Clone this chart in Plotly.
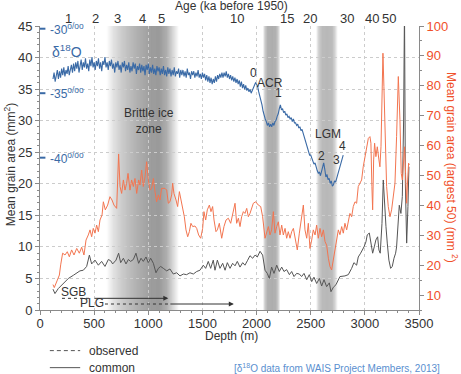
import plotly.graph_objects as go

# ---------------- data ----------------
age_labels = ["1", "2", "3", "4", "5", "10", "15", "20", "30", "40", "50"]
age_depths = [261, 508, 717, 948, 1123, 1818, 2278, 2493, 2832, 3063, 3225]

blue_depth = list(range(120, 2801, 10))
blue_d18o = [
    -33.9, -33.4, -34.1, -33.5, -33.2, -33.9, -33.3, -33.8, -33.1, -33.6,
    -33.0, -33.7, -33.2, -33.5, -32.9, -33.6, -33.1, -32.8, -33.4, -32.7,
    -33.3, -32.6, -33.1, -32.5, -33.4, -32.8, -32.4, -33.2, -32.6, -33.0,
    -32.3, -33.1, -32.7, -33.3, -32.4, -32.9, -32.2, -33.0, -32.6, -33.2,
    -32.5, -32.9, -32.3, -33.1, -32.6, -33.3, -32.5, -32.8, -32.2, -33.0,
    -32.6, -33.2, -32.5, -32.9, -32.4, -33.1, -32.7, -33.4, -32.6, -33.0,
    -32.5, -33.2, -32.8, -33.4, -32.6, -33.0, -32.5, -33.3, -32.8, -33.2,
    -32.6, -33.4, -32.9, -33.3, -32.6, -33.1, -32.7, -33.5, -32.9, -33.2,
    -32.7, -33.4, -32.8, -33.3, -32.9, -33.6, -32.8, -33.2, -32.7, -33.5,
    -33.0, -33.4, -32.8, -33.5, -33.1, -33.6, -32.9, -33.3, -33.0, -33.6,
    -33.1, -33.5, -32.9, -33.6, -33.2, -33.7, -33.0, -33.5, -33.1, -33.7,
    -33.2, -33.6, -33.0, -33.7, -33.3, -33.5, -33.1, -33.8, -33.2, -33.6,
    -33.2, -33.7, -33.3, -33.8, -33.1, -33.6, -33.4, -33.9, -33.3, -33.6,
    -33.3, -33.8, -33.4, -33.7, -33.2, -33.8, -33.5, -33.9, -33.4, -33.8,
    -33.5, -34.0, -33.6, -34.1, -33.7, -34.2, -33.8, -34.3, -33.9, -34.2,
    -33.7, -34.1, -33.6, -33.9, -33.5, -33.8, -33.4, -33.8, -33.4, -33.7,
    -33.3, -33.8, -33.5, -33.9, -33.6, -34.0, -33.7, -34.1, -33.8, -34.2,
    -33.9, -34.3, -34.0, -34.5, -34.1, -34.6, -34.3, -34.7, -34.4, -34.8,
    -34.6, -34.9, -34.7, -35.0, -34.8, -34.6, -34.5, -34.2, -34.3, -34.5,
    -34.9, -35.2, -35.6, -35.9, -36.4, -36.8, -37.0, -37.2, -37.5, -37.3,
    -37.6, -37.4, -37.6, -37.3, -37.5, -37.2, -37.1, -36.8, -36.6, -36.2,
    -35.9, -36.3, -36.2, -36.5, -36.4, -36.7, -36.6, -36.9, -36.8, -37.0,
    -36.9, -37.2, -37.0, -37.3, -37.3, -37.5, -37.4, -37.7, -37.6, -37.9,
    -37.8, -38.1, -38.4, -38.7, -39.1, -39.4, -39.6, -39.8, -39.8, -40.1,
    -40.2, -40.5, -40.4, -40.8, -41.0, -41.2, -41.1, -41.4, -41.0, -40.7,
    -40.4, -40.9, -41.5, -41.3, -41.7, -41.6, -42.0, -41.8, -42.2, -42.1,
    -41.8, -41.9, -41.6, -41.3, -41.0, -40.8, -40.4, -40.1, -39.8,
]

orange_depth = [
    120, 132, 160, 179, 191, 209, 231, 252, 271, 292, 314, 339, 363, 385, 406, 425, 446, 462,
    477, 492, 508, 523, 539, 554, 573, 585, 603, 625, 646, 665, 683, 708, 726, 739, 754, 770,
    785, 800, 813, 831, 846, 862, 877, 893, 911, 923, 939, 954, 970, 985, 1000, 1016, 1031,
    1047, 1062, 1077, 1093, 1108, 1123, 1139, 1154, 1170, 1185, 1200, 1216, 1225, 1237, 1256,
    1271, 1287, 1299, 1317, 1333, 1348, 1364, 1379, 1394, 1410, 1431, 1447, 1465, 1484, 1502,
    1514, 1530, 1545, 1564, 1579, 1594, 1607, 1625, 1638, 1656, 1678, 1699, 1718, 1739, 1761,
    1779, 1801, 1816, 1832, 1847, 1862, 1878, 1893, 1909, 1924, 1939, 1955, 1970, 1992, 2016,
    2038, 2056, 2078, 2093, 2109, 2124, 2139, 2155, 2170, 2186, 2201, 2216, 2232, 2247, 2263,
    2278, 2293, 2309, 2324, 2340, 2355, 2376, 2395, 2416, 2432, 2447, 2463, 2478, 2493, 2509,
    2524, 2540, 2555, 2570, 2586, 2601, 2617, 2632, 2647, 2663, 2678, 2693, 2709, 2724, 2740,
    2755, 2770, 2786, 2801, 2816, 2832, 2847, 2862, 2878, 2893, 2909, 2924, 2939, 2955, 2970,
    2985, 3001, 3016, 3032, 3047, 3056, 3065, 3072, 3081, 3090, 3102, 3115, 3130, 3139, 3149,
    3158, 3167, 3176, 3189, 3201, 3216, 3232, 3247, 3262, 3278, 3293, 3309, 3324, 3336, 3346,
    3355, 3367, 3376, 3386, 3395, 3404, 3410,
]
orange_vals = [
    13.5, 12.5, 15.0, 16.7, 20.1, 24.0, 23.4, 24.5, 22.8, 25.1, 23.4, 25.6, 24.0, 26.0, 23.4, 28.4, 30.1, 31.8,
    29.5, 32.3, 30.7, 33.4, 31.2, 35.1, 36.8, 41.2, 38.5, 40.1, 42.9, 41.8, 40.1, 39.0, 57.2, 46.3, 44.0, 48.5,
    45.1, 47.4, 50.7, 45.1, 48.5, 46.3, 49.0, 44.0, 48.5, 46.8, 51.8, 46.3, 49.6, 54.6, 48.5, 45.1, 45.7,
    49.0, 44.6, 41.2, 43.5, 41.8, 45.7, 45.7, 45.7, 45.1, 40.7, 41.2, 43.5, 47.4, 44.0, 41.8,
    39.6, 44.6, 42.4, 38.5, 36.2, 31.8, 29.5, 31.2, 34.0, 32.9, 33.1, 32.3, 30.1, 29.0, 32.3,
    37.9, 35.1, 38.5, 40.1, 37.9, 39.6, 35.1, 31.2, 31.8, 34.0, 29.0, 32.9, 35.1, 35.7, 34.0,
    37.3, 40.7, 34.0, 35.7, 32.9, 36.2, 37.9, 37.3, 39.0, 36.2, 37.3, 39.0, 40.7, 41.2, 40.1,
    39.6, 36.2, 29.0, 30.7, 32.9, 30.1, 31.8, 37.9, 30.7, 32.9, 34.5, 30.1, 33.4, 30.1, 32.3,
    29.0, 31.2, 29.0, 31.2, 32.3, 29.5, 25.1, 30.7, 36.2, 40.1, 31.8, 29.0, 34.0, 25.6, 28.4,
    31.8, 30.1, 33.4, 29.0, 32.3, 29.5, 31.8, 27.9, 26.7, 22.3, 19.5, 18.4, 21.7, 25.1, 27.9,
    31.8, 30.2, 32.9, 30.7, 34.0, 31.8, 35.1, 37.3, 36.2, 39.6, 41.2, 40.7, 46.3, 47.4, 48.5,
    52.9, 56.3, 60.2, 62.4, 63.0, 60.8, 46.3, 38.5, 55.2, 60.8, 56.3, 59.6, 55.2, 52.9, 59.6,
    74.2, 90.9, 79.7, 59.6, 46.3, 39.6, 36.2, 38.5, 42.9, 47.4, 63.0, 83.1, 68.6, 50.7, 48.5,
    55.2, 59.6, 50.7, 40.7, 48.5, 54.1, 53.5,
]

black_depth = [
    120, 138, 169, 215, 262, 308, 339, 369, 400, 431, 456, 477, 508, 539, 569, 600, 631, 653,
    671, 702, 726, 745, 770, 794, 816, 837, 862, 886, 911, 933, 954, 979, 1000, 1022, 1047,
    1071, 1093, 1114, 1139, 1170, 1200, 1231, 1262, 1293, 1324, 1354, 1385, 1416, 1447, 1477,
    1508, 1530, 1554, 1576, 1600, 1616, 1638, 1662, 1687, 1709, 1730, 1755, 1779, 1801, 1822,
    1847, 1872, 1893, 1915, 1939, 1964, 1986, 2007, 2032, 2056, 2078, 2099, 2118, 2139, 2161,
    2186, 2210, 2232, 2253, 2278, 2303, 2324, 2346, 2370, 2395, 2416, 2438, 2463, 2487, 2509,
    2530, 2555, 2580, 2601, 2623, 2647, 2672, 2687, 2709, 2733, 2755, 2770, 2816, 2847, 2878,
    2899, 2924, 2939, 2961, 2979, 2992, 3010, 3022, 3041, 3056, 3072, 3087, 3102, 3118, 3130,
    3142, 3158, 3170, 3182, 3195, 3207, 3222, 3238, 3253, 3269, 3284, 3293, 3306, 3318, 3333,
    3346, 3358, 3366, 3374, 3386, 3398, 3407,
]
black_vals = [
    3.3, 2.6, 3.4, 4.2, 5.0, 5.5, 5.8, 6.2, 6.3, 6.9, 8.7, 7.3, 7.9, 7.1, 7.7, 6.9, 8.0, 7.8,
    7.3, 7.9, 9.0, 7.5, 8.2, 7.3, 8.0, 7.7, 8.0, 9.0, 7.4, 8.2, 7.7, 8.4, 7.5, 8.2, 7.4,
    5.9, 6.6, 6.9, 6.6, 6.2, 6.5, 5.7, 5.9, 5.4, 5.7, 5.6, 5.9, 5.7, 6.1, 6.3,
    7.1, 6.6, 7.7, 6.6, 7.9, 6.3, 7.9, 6.6, 7.4, 6.3, 7.5, 6.6, 7.4, 7.0, 7.7,
    6.8, 7.5, 7.1, 7.8, 8.6, 8.2, 8.7, 8.4, 9.3, 8.7, 6.3, 5.8, 5.0, 6.8, 5.8,
    7.1, 6.1, 6.8, 6.1, 6.4, 5.6, 6.1, 5.3, 5.8, 5.7, 5.3, 5.8, 4.8, 5.6, 4.5,
    5.2, 4.2, 5.0, 3.8, 4.8, 3.7, 4.3, 2.9, 3.6, 4.0, 4.8, 5.3, 5.4, 5.6, 6.6,
    7.5, 7.1, 8.4, 9.0, 9.5, 10.0, 10.8, 11.9, 12.2, 10.8, 9.0, 10.0, 11.1, 11.6, 9.5,
    9.0, 13.7, 20.6, 16.4, 13.2, 10.6, 7.9, 6.6, 6.9, 8.2, 9.0, 10.0, 14.0, 16.6, 15.3,
    18.0, 30.1, 48.0, 20.0, 10.6, 16.4, 22.7,
]

# ---------------- styling ----------------
FONT = "Liberation Sans, Arial, sans-serif"
BLUE = "#3a6aa6"
ORANGE = "#f37550"
RED = "#f0502a"
GREY = "#8a8a8a"
TXT = "#333333"
D_RANGE = [-51.81, -29.79]

fig = go.Figure()
fig.add_trace(go.Scatter(x=blue_depth, y=blue_d18o, yaxis="y3", mode="lines",
                         line=dict(color=BLUE, width=1.1), showlegend=False, hoverinfo="skip"))
fig.add_trace(go.Scatter(x=orange_depth, y=orange_vals, yaxis="y2", mode="lines",
                         line=dict(color=ORANGE, width=1), showlegend=False, hoverinfo="skip"))
fig.add_trace(go.Scatter(x=black_depth, y=black_vals, yaxis="y", mode="lines",
                         line=dict(color="#555555", width=1), showlegend=False, hoverinfo="skip"))

shapes = []


def crossing(pts, a, left=True):
    # pts: unimodal (x, alpha) profile; x where alpha first reaches a from the left / right side
    seq = pts if left else pts[::-1]
    for (x0, a0), (x1, a1) in zip(seq[:-1], seq[1:]):
        if a0 < a <= a1:
            return x0 + (x1 - x0) * (a - a0) / (a1 - a0)
    return None


def band(pts, n=48):
    amax = max(p[1] for p in pts)
    for k in range(n):
        a = amax * (k + 0.5) / n
        x0 = crossing(pts, a, True)
        x1 = crossing(pts, a, False)
        if x0 is None or x1 is None or x1 <= x0:
            continue
        g = int(round(255 * (1 - a)))
        shapes.append(dict(type="rect", xref="x", yref="paper", x0=x0, x1=x1, y0=0, y1=1,
                           line=dict(width=0), fillcolor=f"rgb({g},{g},{g})", layer="below"))


band([(610, 0.0), (680, 0.12), (760, 0.21), (860, 0.29), (960, 0.35), (1030, 0.39),
      (1100, 0.40), (1170, 0.32), (1230, 0.15), (1285, 0.0)])
band([(2060, 0.0), (2080, 0.2), (2105, 0.31), (2140, 0.32), (2175, 0.31), (2195, 0.22), (2218, 0.0)])
band([(2550, 0.0), (2575, 0.18), (2605, 0.27), (2650, 0.28), (2695, 0.27), (2720, 0.18), (2748, 0.0)])

# delta-18O tick dashes
for v in (-30, -35, -40):
    shapes.append(dict(type="line", xref="x", yref="y3", x0=0, x1=50, y0=v, y1=v,
                       line=dict(color=BLUE, width=2)))

# SGB / PLG observed (dashed) parts
shapes.append(dict(type="line", xref="x", yref="y", x0=203, x1=470, y0=1.85, y1=1.85,
                   line=dict(color=TXT, width=1, dash="3px,3px")))
shapes.append(dict(type="line", xref="x", yref="y", x0=600, x1=1185, y0=0.95, y1=0.95,
                   line=dict(color=TXT, width=1, dash="3px,3px")))

# legend lines under the chart
shapes.append(dict(type="line", xref="paper", yref="paper", x0=0.026, x1=0.106, y0=-0.143, y1=-0.143,
                   line=dict(color="#555555", width=1, dash="4px,3px")))
shapes.append(dict(type="line", xref="paper", yref="paper", x0=0.026, x1=0.106, y0=-0.203, y1=-0.203,
                   line=dict(color="#555555", width=1)))

ann = []


def txt(x, y, s, size=12, color=TXT, xref="x", yref="y", **kw):
    d = dict(x=x, y=y, text=s, xref=xref, yref=yref, showarrow=False,
             xanchor="center", yanchor="middle",
             font=dict(family=FONT, size=size, color=color))
    d.update(kw)
    ann.append(d)


# arrows (common parts)
ann.append(dict(x=1185, y=1.85, ax=490, ay=1.85, xref="x", yref="y", axref="x", ayref="y",
                text="", showarrow=True, arrowhead=2, arrowsize=1, arrowwidth=1, arrowcolor=TXT))
ann.append(dict(x=1790, y=0.95, ax=1190, ay=0.95, xref="x", yref="y", axref="x", ayref="y",
                text="", showarrow=True, arrowhead=2, arrowsize=1, arrowwidth=1, arrowcolor=TXT))

txt(305, 2.85, "SGB", size=12)
txt(480, 1.05, "PLG", size=12)

for v in (-30, -35, -40):
    txt(75, v, f"-{abs(v)}<sup>o/oo</sup>", size=12, color=BLUE, yref="y3", xanchor="left")

txt(250, 41.1, "δ<sup>18</sup>O", size=14, color=BLUE)
txt(1007, 29.9, "Brittle ice<br>zone", size=12)
txt(1976, 37.6, "0", size=12)
txt(2124, 36.0, "ACR", size=12)
txt(2207, 34.4, "1", size=12)
txt(2659, 27.9, "LGM", size=12)
txt(2595, 24.4, "2", size=12)
txt(2742, 23.8, "3", size=12)
txt(2789, 26.0, "4", size=12)

# top age scale (labels placed at their depths)
for d, lab in zip(age_depths, age_labels):
    txt(d, 1.027, lab, size=13, yref="paper")

# titles
txt(0.504, 1.07, "Age (ka before 1950)", size=12, xref="paper", yref="paper")
txt(0.504, -0.092, "Depth (m)", size=12, xref="paper", yref="paper")
txt(-0.079, 0.51, "Mean grain area (mm<sup>2</sup>)", size=12, xref="paper", yref="paper", textangle=-90)
txt(1.087, 0.5, "Mean grain area (largest 50) (mm <sup>2</sup>)", size=12, color=RED,
    xref="paper", yref="paper", textangle=90)

# bottom legend text and source
txt(0.124, -0.143, "observed", size=12, xref="paper", yref="paper", xanchor="left")
txt(0.124, -0.203, "common", size=12, xref="paper", yref="paper", xanchor="left")
txt(1.061, -0.203, "[δ<sup>18</sup>O data from WAIS Project Members, 2013]", size=10, color="#5a8fd0",
    xref="paper", yref="paper", xanchor="right")

axis_common = dict(showline=True, linecolor=GREY, linewidth=1, ticks="outside", ticklen=4,
                   tickcolor=GREY, zeroline=False, tickfont=dict(family=FONT, size=13, color=TXT))

fig.update_layout(
    width=461, height=374, autosize=False,
    margin=dict(l=40, r=42, t=26, b=64),
    paper_bgcolor="white", plot_bgcolor="white",
    font=dict(family=FONT, size=12, color=TXT),
    xaxis=dict(range=[0, 3500], tickvals=[0, 500, 1000, 1500, 2000, 2500, 3000, 3500],
               showgrid=True, gridcolor="#cccccc", griddash="dot", gridwidth=1,
               ticklabelstandoff=-3,
               minor=dict(dtick=100, ticks="outside", ticklen=2, tickcolor=GREY, showgrid=False),
               **axis_common),
    yaxis=dict(range=[0, 45], dtick=5, tick0=0,
               showgrid=True, gridcolor="#cccccc", griddash="dot", gridwidth=1,
               minor=dict(dtick=1, ticks="outside", ticklen=2, tickcolor=GREY, showgrid=False),
               **axis_common),
    yaxis2=dict(range=[5, 100], overlaying="y", side="right", anchor="x",
                tickvals=[10, 20, 30, 40, 50, 60, 70, 80, 90, 100], showgrid=False,
                showline=True, linecolor=GREY, linewidth=1, ticks="outside", ticklen=4,
                tickcolor=GREY, zeroline=False,
                minor=dict(dtick=5, tick0=0, ticks="outside", ticklen=2, tickcolor=GREY, showgrid=False),
                tickfont=dict(family=FONT, size=13, color=RED)),
    yaxis3=dict(range=D_RANGE, overlaying="y", visible=False, anchor="x"),
    shapes=shapes,
    annotations=ann,
    showlegend=False,
)

fig.write_html("out.html", config={"displayModeBar": False},
               post_script="document.body.style.margin='0';")
